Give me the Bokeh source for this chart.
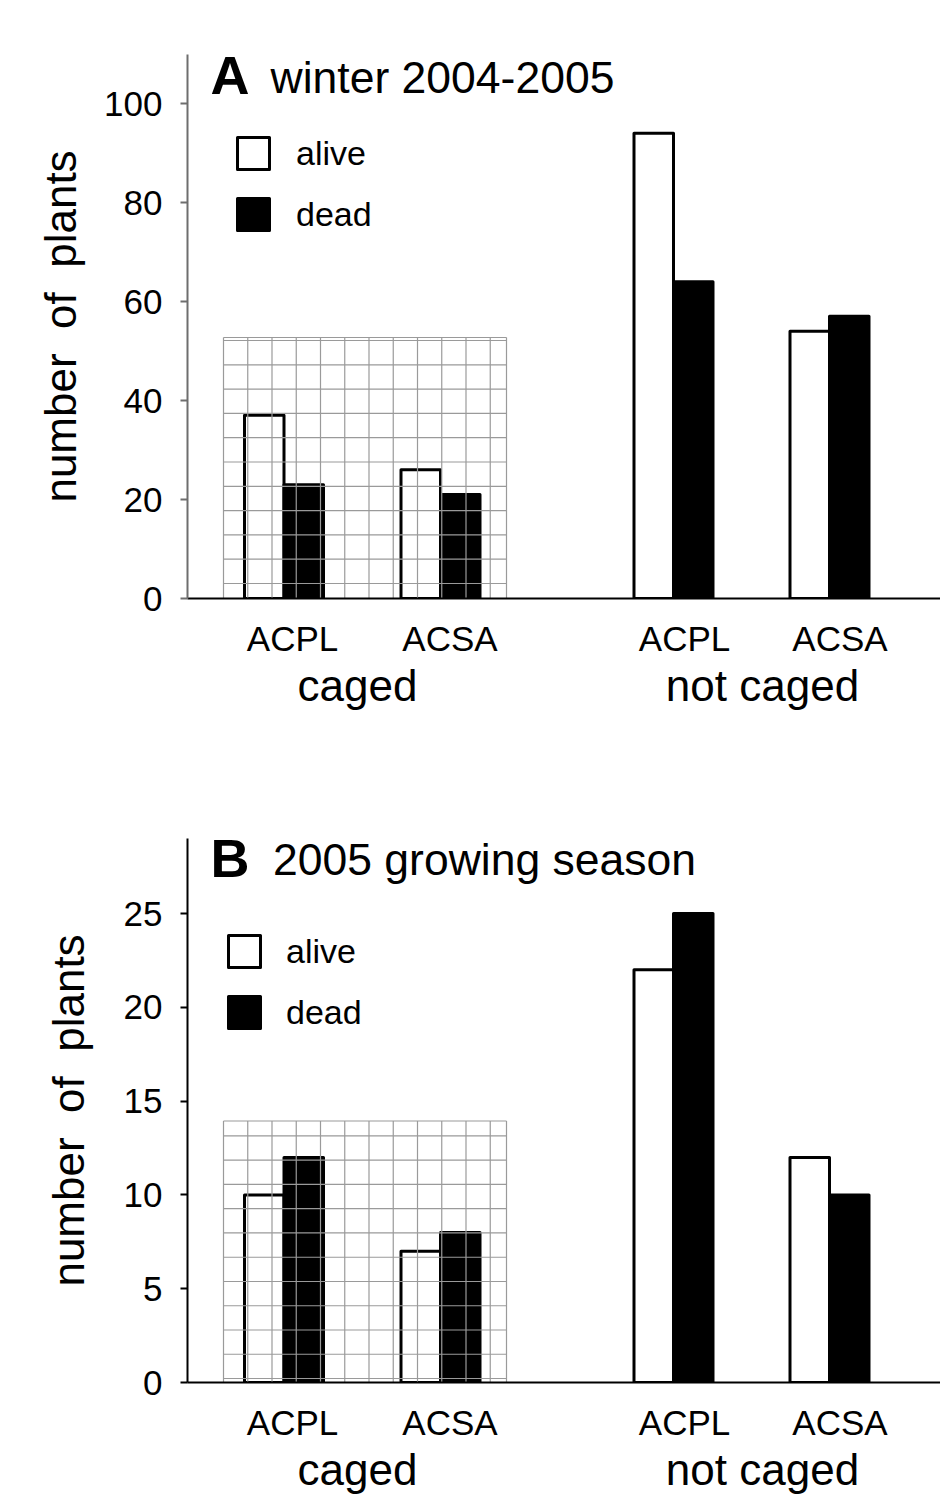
import numpy as np
from bokeh.plotting import figure
from bokeh.models import (Range1d, FixedTicker, Label, Legend, LegendItem,
                          ColumnDataSource, LinearAxis)
from bokeh.layouts import column
from bokeh.embed import file_html
from bokeh.resources import INLINE

# ---- data ----
species = ["ACPL", "ACSA", "ACPL", "ACSA"]
treatment = ["caged", "caged", "not caged", "not caged"]
groups = ["caged", "not caged"]
winter_alive = [37, 26, 94, 54]
winter_dead = [23, 21, 64, 57]
season_alive = [10, 7, 22, 12]
season_dead = [12, 8, 25, 10]
winter_ticks = [0, 20, 40, 60, 80, 100]
season_ticks = [0, 5, 10, 15, 20, 25]

# ---- layout constants ----
FONT = "Liberation Sans"
W = 940
LEFT = 187
PX = 100.0                      # px per x unit
X_END = (W - LEFT) / PX
slot_x = [0.965, 2.53, 4.86, 6.42]      # centre of each species pair
label_x = [1.05, 2.625, 4.97, 6.525]    # tick-label positions
group_x = [1.70, 5.75]
BAR_W = 0.395
CAGE_X0, CAGE_X1, CELL_X = 0.36, 3.19, 0.2425


def make_panel(letter, title, title_x, alive, dead, ticks, y_end, height,
               top, bottom, axis_color, label_standoff, legend_xy,
               letter_mid_px, title_mid_px, grid_phase, cage_h,
               legend_standoff):
    frame_h = height - top - bottom
    ppy = frame_h / y_end
    p = figure(width=W, height=height, x_range=Range1d(0, X_END),
               y_range=Range1d(0, y_end), output_backend="svg",
               toolbar_location=None, min_border_left=LEFT,
               min_border_right=0, min_border_top=top,
               min_border_bottom=bottom)
    p.outline_line_color = None
    p.xgrid.visible = False
    p.ygrid.visible = False
    p.background_fill_color = "white"
    p.border_fill_color = "white"

    src = ColumnDataSource(dict(
        xa=[s - BAR_W / 2 for s in slot_x],
        xd=[s + BAR_W / 2 for s in slot_x],
        alive=alive, dead=dead, species=species, treatment=treatment))
    ra = p.vbar(x="xa", top="alive", bottom=0, width=BAR_W, source=src,
                fill_color="white", line_color="black", line_width=3,
                line_join="round")
    rd = p.vbar(x="xd", top="dead", bottom=0, width=BAR_W, source=src,
                fill_color="black", line_color="black", line_width=3,
                line_join="round")

    # cage grid (decoration, drawn over the caged bars)
    cage_top = cage_h / ppy
    vx = [CAGE_X0 + k * CELL_X for k in range(12)] + [CAGE_X1]
    hy = [(grid_phase + k * 24.3) / ppy for k in range(11)] + [0, cage_top]
    p.segment(x0=vx, y0=[0] * len(vx), x1=vx, y1=[cage_top] * len(vx),
              line_color="#9a9a9a", line_width=1.2)
    p.segment(x0=[CAGE_X0] * len(hy), y0=hy, x1=[CAGE_X1] * len(hy), y1=hy,
              line_color="#9a9a9a", line_width=1.2)

    # y axis
    ya = p.yaxis[0]
    ya.ticker = FixedTicker(ticks=ticks)
    ya.major_label_text_font = FONT
    ya.major_label_text_font_size = "35px"
    ya.major_label_text_color = "black"
    ya.major_tick_out = 7
    ya.major_tick_in = 0
    ya.minor_tick_out = 0
    ya.minor_tick_in = 0
    ya.axis_line_color = axis_color
    ya.axis_line_width = 2
    ya.major_tick_line_color = axis_color
    ya.major_tick_line_width = 2
    ya.major_label_standoff = 18
    ya.axis_label = "number \u00a0of \u00a0plants"
    ya.axis_label_text_font = FONT
    ya.axis_label_text_font_size = "44px"
    ya.axis_label_text_font_style = "normal"
    ya.axis_label_text_color = "black"
    ya.axis_label_standoff = label_standoff

    # x axis: species labels
    xa = p.xaxis[0]
    xa.ticker = FixedTicker(ticks=label_x)
    xa.major_label_overrides = {lx: sp for lx, sp in zip(label_x, species)}
    xa.major_label_text_font = FONT
    xa.major_label_text_font_size = "35px"
    xa.major_label_text_color = "black"
    xa.major_tick_out = 0
    xa.major_tick_in = 0
    xa.minor_tick_out = 0
    xa.minor_tick_in = 0
    xa.axis_line_color = "black"
    xa.axis_line_width = 2
    xa.major_label_standoff = 20

    # second x axis: treatment labels
    ga = LinearAxis(ticker=FixedTicker(ticks=group_x),
                    major_label_overrides={gx: g for gx, g in zip(group_x, groups)})
    ga.major_label_text_font = FONT
    ga.major_label_text_font_size = "44px"
    ga.major_label_text_color = "black"
    ga.major_tick_out = 0
    ga.major_tick_in = 0
    ga.minor_tick_out = 0
    ga.minor_tick_in = 0
    ga.axis_line_color = None
    ga.major_label_standoff = 0
    p.add_layout(ga, "below")

    # panel title
    p.add_layout(Label(x=0.23, y=(frame_h - letter_mid_px) / ppy, text=letter,
                       text_font=FONT, text_font_style="bold",
                       text_font_size="54px", text_baseline="middle",
                       text_color="black"))
    p.add_layout(Label(x=title_x, y=(frame_h - title_mid_px) / ppy, text=title,
                       text_font=FONT, text_font_size="44.5px",
                       text_baseline="middle", text_color="black"))

    legend = Legend(items=[LegendItem(label="alive", renderers=[ra]),
                           LegendItem(label="dead", renderers=[rd])],
                    location=legend_xy, glyph_width=40, glyph_height=40,
                    label_text_font=FONT, label_text_font_size="34px",
                    label_text_color="black",
                    label_standoff=legend_standoff, spacing=21, padding=0,
                    margin=0, border_line_color=None, background_fill_alpha=0)
    p.add_layout(legend)
    return p


# panel A: frame 54..598 ; panel B: frame 838..1383
pA = make_panel("A", "winter 2004-2005", 0.83, winter_alive, winter_dead,
                winter_ticks, 109.9, 728, 54, 130, "#6e6e6e", 16,
                (46, 364), 20, 23, 15, 261, 23)
pB = make_panel("B", "2005 growing season", 0.855, season_alive, season_dead,
                season_ticks, 29.0, 768, 110, 113, "black", 28,
                (37, 350), 20, 21, 4, 262, 22)

layout = column(pA, pB)
open("out.html", "w").write(file_html(layout, INLINE))
